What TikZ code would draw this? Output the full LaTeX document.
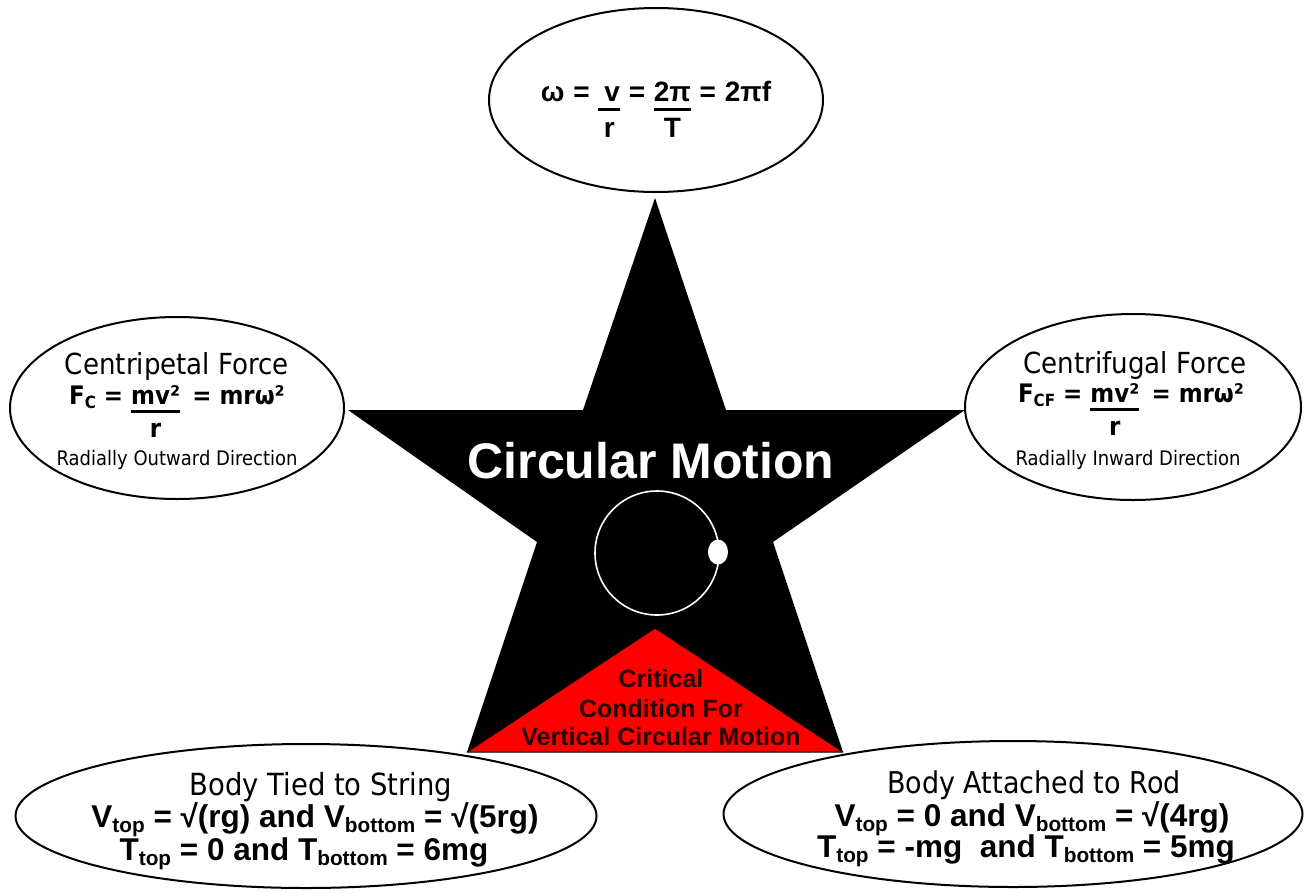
\documentclass[tikz,border=0pt]{standalone}
\usepackage{fontspec}
\setmainfont{Liberation Sans}
\newfontfamily\tahoma[FakeStretch=0.9]{DejaVu Sans}
\usetikzlibrary{shapes.geometric}

\definecolor{critred}{RGB}{255,0,0}
\definecolor{crittext}{RGB}{40,0,0}

\newcommand{\frc}[2]{{\setlength{\tabcolsep}{0pt}\setlength{\arrayrulewidth}{2.5pt}%
  \begin{tabular}[t]{c}#1\\[-0.1em]\hline\rule{0pt}{0.95em}#2\end{tabular}}}
\newcommand{\eq}{\ \kern1pt=\kern1pt\ }
\newcommand{\sub}[1]{\raisebox{-0.16em}{\scalebox{0.66}{#1}}}

\tikzset{
  bubble/.style={ellipse, draw=black, line width=2pt, fill=white, inner sep=0pt},
  eqn/.style={anchor=base, inner sep=0pt, font=\fontsize{28}{33}\selectfont\bfseries},
  tahlbl/.style={anchor=base, inner sep=0pt, font=\tahoma\fontsize{29}{34}\selectfont},
  tahbold/.style={anchor=base, inner sep=0pt, font=\tahoma\fontsize{25.5}{30}\selectfont\bfseries},
  tahsmall/.style={anchor=base, inner sep=0pt, font=\tahoma\fontsize{20}{24}\selectfont},
  cond/.style={anchor=base, inner sep=0pt, font=\fontsize{31.5}{37}\selectfont\bfseries},
  crit/.style={anchor=base, inner sep=0pt, text=crittext, font=\fontsize{25}{30}\selectfont\bfseries}
}

\begin{document}
\begin{tikzpicture}[x=1pt, y=-1pt, line join=round]
  \useasboundingbox (0,0) rectangle (1315,892);

  \fill[black] (655,198) -- (726,410) -- (965,410) -- (773,542) -- (843,752)
    -- (655,628) -- (467,752) -- (537,542) -- (348,410) -- (583,410) -- cycle;
  \filldraw[fill=critred, draw=black, line width=1pt] (467,752) -- (655,628) -- (843,752) -- cycle;
  \draw[white, line width=1.6pt] (657,553) circle [radius=62];
  \fill[white] (718,552) ellipse [x radius=10, y radius=12.5];

  \node[anchor=base, inner sep=0pt, text=white, font=\fontsize{50}{60}\selectfont\bfseries] (title) at (651,478) {Circular Motion};
  \node[crit] (crit1) at (661,687) {Critical};
  \node[crit] (crit2) at (661,717) {Condition For};
  \node[crit] (crit3) at (661,745) {Vertical Circular Motion};

  \node[bubble, minimum width=334pt, minimum height=184pt] (omega) at (656,100) {};
  \node[bubble, minimum width=334pt, minimum height=182pt] (centripetal) at (177,408) {};
  \node[bubble, minimum width=336pt, minimum height=186pt] (centrifugal) at (1133,407) {};
  \node[bubble, minimum width=581pt, minimum height=144pt] (string) at (306,816) {};
  \node[bubble, minimum width=579pt, minimum height=146pt] (rod) at (1013,814) {};

  \node[eqn] (omegaeq) at (656,101) {ω\eq\frc{\hspace{6pt}v\hspace{6pt}}{r}\eq\frc{2π}{T}\eq2πf};

  \node[tahlbl] (cpname) at (177,374) {Centripetal Force};
  \node[tahbold] (cpeq) at (177,404) {F\sub{C} = \frc{mv²}{r} \,= mrω²};
  \node[tahsmall] (cpdir) at (177,465) {Radially Outward Direction};

  \node[tahlbl] (cfname) at (1135,373) {Centrifugal Force};
  \node[tahbold] (cfeq) at (1131,402) {F\sub{CF} = \frc{mv²}{r} \,= mrω²};
  \node[tahsmall] (cfdir) at (1128,465) {Radially Inward Direction};

  \node[tahlbl, font=\tahoma\fontsize{30.5}{36}\selectfont] (strname) at (321,795) {Body Tied to String};
  \node[cond] (strv) at (315,827) {V\sub{top} = √(rg) and V\sub{bottom} = √(5rg)};
  \node[cond] (strt) at (304,860) {T\sub{top} = 0 and T\sub{bottom} = 6mg};

  \node[tahlbl, font=\tahoma\fontsize{30}{36}\selectfont] (rodname) at (1034,793) {Body Attached to Rod};
  \node[cond] (rodv) at (1032,826) {V\sub{top} = 0 and V\sub{bottom} = √(4rg)};
  \node[cond] (rodt) at (1026,857) {T\sub{top} = -mg\ \ and T\sub{bottom} = 5mg};
\end{tikzpicture}
\end{document}
